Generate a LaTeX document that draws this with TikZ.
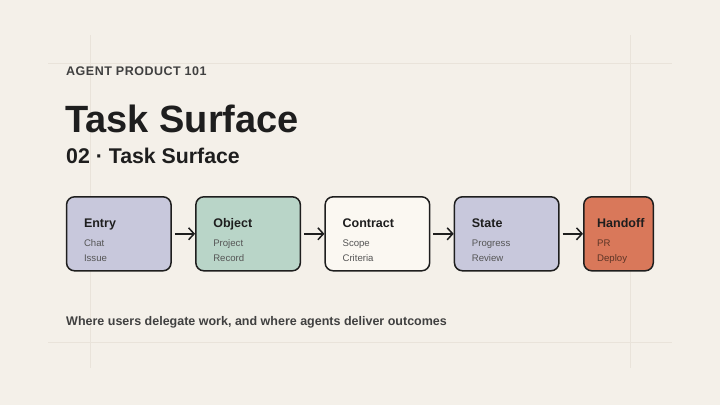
\documentclass[tikz,border=0pt]{standalone}
\usepackage{fontspec}
\setmainfont{Liberation Sans}
\usetikzlibrary{arrows.meta, positioning}
\definecolor{paper}{HTML}{F4F0E9}
\definecolor{grid}{HTML}{E9E3DA}
\definecolor{ink}{HTML}{1E1E1E}
\definecolor{soft}{HTML}{555555}
\definecolor{lav}{HTML}{C8C8DC}
\definecolor{sage}{HTML}{B9D5C8}
\definecolor{cream}{HTML}{FBF8F2}
\definecolor{clay}{HTML}{D9785A}
\definecolor{claytext}{HTML}{5C3426}
\tikzstyle{box}=[draw=ink, line width=1.5pt, rounded corners=8pt, minimum width=104.5pt, minimum height=74pt, inner sep=0pt]
\tikzstyle{head}=[anchor=base west, inner sep=0pt, text=ink, font=\fontsize{12.5}{14}\selectfont\bfseries]
\tikzstyle{sub}=[anchor=base west, inner sep=0pt, text=soft, font=\fontsize{9.6}{11}\selectfont]
\tikzstyle{arr}=[line width=1.5pt, -{Straight Barb[length=5.5pt, width=12pt]}, draw=ink, shorten <=3pt]

\begin{document}
\begin{tikzpicture}[x=1pt, y=-1pt, node distance=23.3pt]
    \useasboundingbox[fill=paper] (0,0) rectangle (720,405);
    % faint guides
    \draw[grid, line width=1pt] (48,63) -- (672,63) (48,342) -- (672,342)
        (90,35) -- (90,368) (630,35) -- (630,368);

    \node[anchor=base west, inner sep=0pt, text=ink!85, font=\fontsize{12.5}{14}\selectfont\bfseries\addfontfeature{LetterSpace=4}] (kicker) at (66,75) {AGENT PRODUCT 101};
    \node[anchor=base west, inner sep=0pt, text=ink, font=\fontsize{38}{40}\selectfont\bfseries] (title) at (65,132) {Task Surface};
    \node[anchor=base west, inner sep=0pt, text=ink, font=\fontsize{21.3}{24}\selectfont\bfseries] (subtitle) at (66,163) {02 · Task Surface};

    \node [box, fill=lav] (entry) at (118.8,233.8) {};
    \node [box, fill=sage, right=of entry] (object) {};
    \node [box, fill=cream, right=of object] (contract) {};
    \node [box, fill=lav, right=of contract] (state) {};
    \node [box, fill=clay, minimum width=69.5pt, right=of state] (handoff) {};

    \node[head, xshift=18pt, yshift=-31pt] (entryT) at (entry.north west) {Entry};
    \node[sub, xshift=18pt, yshift=-50pt] (entryA) at (entry.north west) {Chat};
    \node[sub, xshift=18pt, yshift=-65pt] (entryB) at (entry.north west) {Issue};
    \node[head, xshift=18pt, yshift=-31pt] (objectT) at (object.north west) {Object};
    \node[sub, xshift=18pt, yshift=-50pt] (objectA) at (object.north west) {Project};
    \node[sub, xshift=18pt, yshift=-65pt] (objectB) at (object.north west) {Record};
    \node[head, xshift=18pt, yshift=-31pt] (contractT) at (contract.north west) {Contract};
    \node[sub, xshift=18pt, yshift=-50pt] (contractA) at (contract.north west) {Scope};
    \node[sub, xshift=18pt, yshift=-65pt] (contractB) at (contract.north west) {Criteria};
    \node[head, xshift=18pt, yshift=-31pt] (stateT) at (state.north west) {State};
    \node[sub, xshift=18pt, yshift=-50pt] (stateA) at (state.north west) {Progress};
    \node[sub, xshift=18pt, yshift=-65pt] (stateB) at (state.north west) {Review};
    \node[head, xshift=14pt, yshift=-31pt] (handoffT) at (handoff.north west) {Handoff};
    \node[sub, text=claytext, xshift=14pt, yshift=-50pt] (handoffA) at (handoff.north west) {PR};
    \node[sub, text=claytext, xshift=14pt, yshift=-65pt] (handoffB) at (handoff.north west) {Deploy};

    \draw[arr] (entry) -- (object);
    \draw[arr] (object) -- (contract);
    \draw[arr] (contract) -- (state);
    \draw[arr] (state) -- (handoff);

    \node[anchor=base west, inner sep=0pt, text=ink!85, font=\fontsize{12.5}{15}\selectfont\bfseries] (note) at (66,325) {Where users delegate work, and where agents deliver outcomes};
\end{tikzpicture}
\end{document}
